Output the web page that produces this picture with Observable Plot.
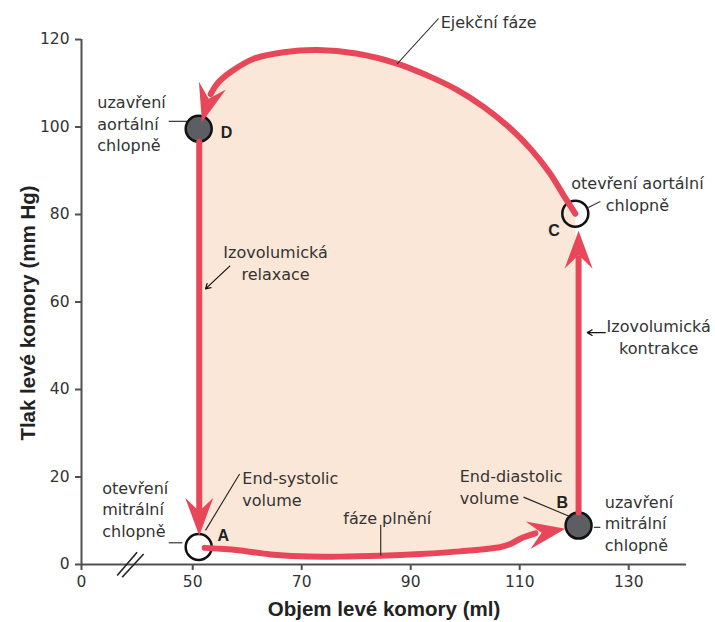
<!DOCTYPE html>
<html><head><meta charset="utf-8">
<script src="https://cdn.jsdelivr.net/npm/d3@7"></script>
<script src="https://cdn.jsdelivr.net/npm/@observablehq/plot@0.6"></script>
<style>body{margin:0;background:#fff}</style>
</head><body><div id="chart"></div>
<script>
// ---- axis ticks ----
const xTickValues = [29.6, 50, 70, 90, 110, 130];
const xTickLabels = ["0", "50", "70", "90", "110", "130"];
const yTickValues = [0, 20, 40, 60, 80, 100, 120];

// ---- loop segments (volume ml, pressure mm Hg) ----
const fillingVolume   = [52.2, 55.1, 58.8, 64.3, 69.8, 77.0, 84.5, 91.8, 99.1, 106.5, 108.5, 110.1, 112.9];
const fillingPressure = [3.8, 3.6, 3.2, 2.3, 1.9, 1.8, 2.0, 2.4, 3.0, 4.0, 4.8, 5.9, 7.1];

const contractionVolume   = [120.8, 120.8];
const contractionPressure = [11.9, 70];

const ejectionVolume   = [120.2, 118.0, 115.5, 112.0, 108.0, 103.5, 98.5, 93.0, 87.5, 80.0, 73.0, 66.7, 61.2, 56.9, 54.5, 53.3];
const ejectionPressure = [80.2, 84.5, 89.5, 95.0, 100.0, 104.5, 108.5, 111.8, 114.5, 116.8, 117.6, 117.1, 115.6, 112.5, 109.9, 107.5];

const relaxationVolume   = [51.2, 51.2];
const relaxationPressure = [96.6, 12];

// ---- valve events ----
const valveName     = ["A", "B", "C", "D"];
const valveVolume   = [51.1, 120.8, 120.2, 51.1];
const valvePressure = [4.0, 8.9, 80.2, 99.6];
const valveState    = ["open", "closed", "open-ring", "closed"];

// ---- arrow heads along the loop ----
const headVolume   = [51.2, 118.4, 120.8, 51.7];
const headPressure = [6.6, 8.2, 76.3, 101.1];
const headAngle    = [180, 80, 0, 196];

// ---- annotations ----
const noteText = ["uzavření\naortální\nchlopně", "otevření\nmitrální\nchlopně", "uzavření\nmitrální\nchlopně",
  "End-systolic\nvolume", "End-diastolic\nvolume", "Ejekční fáze",
  "otevření aortální\nchlopně", "Izovolumická\nrelaxace", "Izovolumická\nkontrakce", "fáze plnění"];
const noteVolume   = [32.5, 33.4, 125.6, 59.1, 99.0, 95.5, 131.6, 65.2, 135.5, 85.7];
const notePressure = [101.0, 12.8, 9.6, 17.5, 17.9, 124.2, 84.9, 69.1, 52.2, 10.8];
const noteAlign    = ["start", "start", "start", "start", "start", "start", "middle", "middle", "middle", "middle"];

const letterVolume   = [55.6, 117.8, 116.3, 56.2];
const letterPressure = [6.6, 14.2, 76.3, 98.7];

const leaderX1 = [87.5, 45.6, 45.6, 123.6, 122.6, 52.35, 110.7, 84.5];
const leaderY1 = [114.4, 101.3, 4.96, 8.5, 81.6, 7.8, 15.4, 2.06];
const leaderX2 = [95.1, 49.0, 48.1, 124.8, 124.8, 58.6, 119.5, 84.5];
const leaderY2 = [124.8, 101.3, 4.96, 8.5, 83.0, 20.7, 10.8, 9.1];

const pointerX1 = [56.8, 125.7];
const pointerY1 = [68.2, 53.0];
const pointerX2 = [52.35, 122.4];
const pointerY2 = [63.0, 53.0];

const breakX1 = [36.15, 37.06];
const breakY1 = [-2.5, -2.9];
const breakX2 = [39.8, 41.0];
const breakY2 = [2.8, 2.4];

// ---- build tables ----
const zip = (xs, ys) => xs.map((v, i) => ({v, p: ys[i]}));
const filling = zip(fillingVolume, fillingPressure);
const contraction = zip(contractionVolume, contractionPressure);
const ejection = zip(ejectionVolume, ejectionPressure);
const relaxation = zip(relaxationVolume, relaxationPressure);
const loopPolygon = [
  {v: valveVolume[0], p: valvePressure[0]},
  ...filling,
  {v: valveVolume[1], p: valvePressure[1]},
  {v: valveVolume[2], p: valvePressure[2]},
  ...ejection,
  {v: headVolume[3], p: headPressure[3]},
  {v: valveVolume[3], p: valvePressure[3]}
];
const valves = valveName.map((n, i) => ({n, v: valveVolume[i], p: valvePressure[i], s: valveState[i]}));
const heads = headVolume.map((v, i) => ({v, p: headPressure[i], a: headAngle[i]}));
const notes = noteText.map((t, i) => ({t, v: noteVolume[i], p: notePressure[i], a: noteAlign[i]}));
const letters = valveName.map((t, i) => ({t, v: letterVolume[i], p: letterPressure[i]}));
const leaders = leaderX1.map((x1, i) => ({x1, y1: leaderY1[i], x2: leaderX2[i], y2: leaderY2[i]}));
const pointers = pointerX1.map((x1, i) => ({x1, y1: pointerY1[i], x2: pointerX2[i], y2: pointerY2[i]}));
const breaks = breakX1.map((x1, i) => ({x1, y1: breakY1[i], x2: breakX2[i], y2: breakY2[i]}));
const xLabelOf = new Map(xTickValues.map((d, i) => [d, xTickLabels[i]]));

const red = "#e8475a", peach = "#fbe7d8", ink = "#333", axisColor = "#505050";
const annFont = "DejaVu Sans, Verdana, sans-serif";
const boldFont = "Liberation Sans, Arial, sans-serif";

const arrowHead = {
  draw(ctx, l) {
    const w = l * 0.37;
    ctx.moveTo(0, -l);
    ctx.lineTo(w, 0);
    ctx.lineTo(0, -l * 0.36);
    ctx.lineTo(-w, 0);
    ctx.closePath();
  }
};

const chart = Plot.plot({
  width: 715, height: 622,
  marginLeft: 81, marginRight: 29, marginTop: 39, marginBottom: 58,
  x: {domain: [29.6, 140.6]},
  y: {domain: [0, 120]},
  style: {fontFamily: annFont, fontSize: "15.5px", color: ink, background: "white", overflow: "visible"},
  marks: [
    Plot.line(loopPolygon, {x: "v", y: "p", fill: peach, stroke: "none"}),
    Plot.ruleY([0], {stroke: axisColor, strokeWidth: 2}),
    Plot.ruleX([29.6], {stroke: axisColor, strokeWidth: 2}),
    Plot.axisX({ticks: xTickValues, tickFormat: d => xLabelOf.get(d), tickSize: 6, tickPadding: 5,
      stroke: axisColor, strokeWidth: 2, fill: ink, label: null, fontSize: 15.5}),
    Plot.axisY({ticks: yTickValues, tickSize: 6, tickPadding: 6,
      stroke: axisColor, strokeWidth: 2, fill: ink, label: null, fontSize: 15.5}),
    Plot.link(breaks, {x1: "x1", y1: "y1", x2: "x2", y2: "y2", stroke: "#222", strokeWidth: 1.6}),
    Plot.dot(valves, {x: "v", y: "p", r: 13, stroke: "#111", strokeWidth: 2.5,
      fill: d => d.s === "closed" ? "#5c5e63" : d.s === "open" ? "white" : "none"}),
    Plot.line(filling, {x: "v", y: "p", stroke: red, strokeWidth: 6, curve: "catmull-rom", strokeLinejoin: "round"}),
    Plot.line(contraction, {x: "v", y: "p", stroke: red, strokeWidth: 6}),
    Plot.line(ejection, {x: "v", y: "p", stroke: red, strokeWidth: 6, curve: "catmull-rom", strokeLinejoin: "round"}),
    Plot.line(relaxation, {x: "v", y: "p", stroke: red, strokeWidth: 6}),
    Plot.vector(heads, {x: "v", y: "p", rotate: "a", length: 38, anchor: "end", shape: arrowHead, fill: red, stroke: "none"}),
    Plot.link(leaders, {x1: "x1", y1: "y1", x2: "x2", y2: "y2", stroke: "#222", strokeWidth: 1.1}),
    Plot.arrow(pointers, {x1: "x1", y1: "y1", x2: "x2", y2: "y2", stroke: "#111", strokeWidth: 1.2, headLength: 7}),
    Plot.text(notes.filter(d => d.a === "start"), {x: "v", y: "p", text: "t", textAnchor: "start", lineAnchor: "middle",
      lineHeight: 1.36, fontSize: 16, fontFamily: annFont, fill: ink}),
    Plot.text(notes.filter(d => d.a === "middle"), {x: "v", y: "p", text: "t", textAnchor: "middle", lineAnchor: "middle",
      lineHeight: 1.36, fontSize: 16, fontFamily: annFont, fill: ink}),
    Plot.text(letters, {x: "v", y: "p", text: "t", fontSize: 16, fontWeight: "bold", fontFamily: boldFont, fill: "#222"}),
    Plot.text(["Objem levé komory (ml)"], {frameAnchor: "bottom", dy: 45, lineAnchor: "middle", textAnchor: "middle",
      fontSize: 20.5, fontWeight: "bold", fontFamily: boldFont, fill: "#222"}),
    Plot.text(["Tlak levé komory (mm Hg)"], {frameAnchor: "left", dx: -53, dy: 11, rotate: -90, lineAnchor: "middle", textAnchor: "middle",
      fontSize: 20.5, fontWeight: "bold", fontFamily: boldFont, fill: "#222"})
  ]
});
document.getElementById("chart").appendChild(chart);
</script>
</body></html>
